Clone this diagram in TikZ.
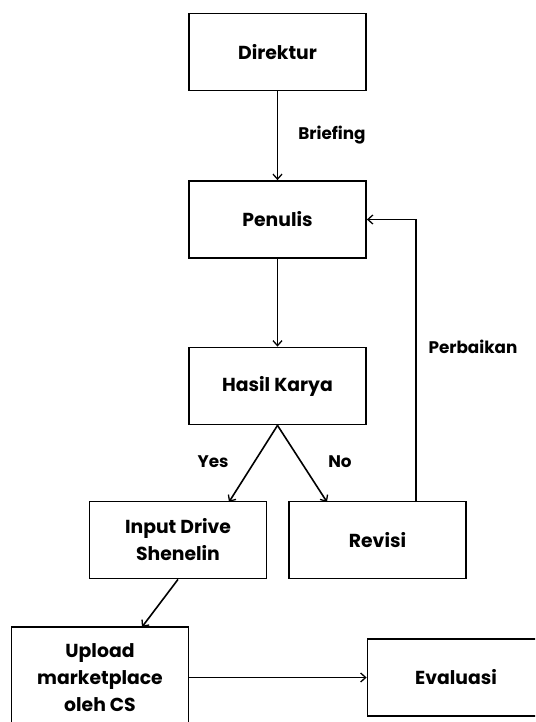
\documentclass[tikz,border=0pt]{standalone}
\usepackage{fontspec}
\setmainfont{Poppins}
\usetikzlibrary{arrows.meta}
\begin{document}
\begin{tikzpicture}[x=1pt,y=-1pt,
  box/.style={draw, line width=1.8pt, minimum width=177pt, minimum height=77pt, inner sep=0pt, align=center, font=\fontsize{18.8}{27}\selectfont\bfseries},
  lbl/.style={font=\fontsize{16.8}{18}\selectfont\bfseries, inner sep=0pt},
  conn/.style={line width=1.6pt, -{Straight Barb[length=5pt,width=9pt,line width=1.3pt]}}]
\useasboundingbox (0,0) rectangle (535,722);
\clip (0,0) rectangle (535,722);
\node[box] (dir) at (277.5,52) {Direktur};
\node[box] (pen) at (277.5,219.5) {Penulis};
\node[box] (has) at (277.5,386) {Hasil Karya};
\node[box] (inp) at (178,540) {Input Drive\\Shenelin};
\node[box] (rev) at (377.5,540) {Revisi};
\node[box, minimum height=102pt] (upl) at (100,678) {Upload\\marketplace\\oleh CS};
\node[box] (eva) at (456,677.5) {Evaluasi};
\draw[conn] (dir) -- (pen);
\node[lbl] (brief) at (332,135) {Briefing};
\draw[conn] (pen) -- (has);
\coordinate (yes) at (229,502);
\coordinate (no) at (327,502);
\draw[conn] (has.south) -- (yes);
\draw[conn] (has.south) -- (no);
\node[lbl] (ylab) at (213,462) {Yes};
\node[lbl] (nlab) at (340,462) {No};
\coordinate (up) at (142,627);
\draw[conn] (inp.south) -- (up);
\coordinate (rtop) at (416,502);
\draw[conn] (rtop) -- (416,219.5) -- (pen.east);
\node[lbl] (perb) at (473,347) {Perbaikan};
\draw[conn] (upl.east |- eva.west) -- (eva.west);
\end{tikzpicture}
\end{document}
